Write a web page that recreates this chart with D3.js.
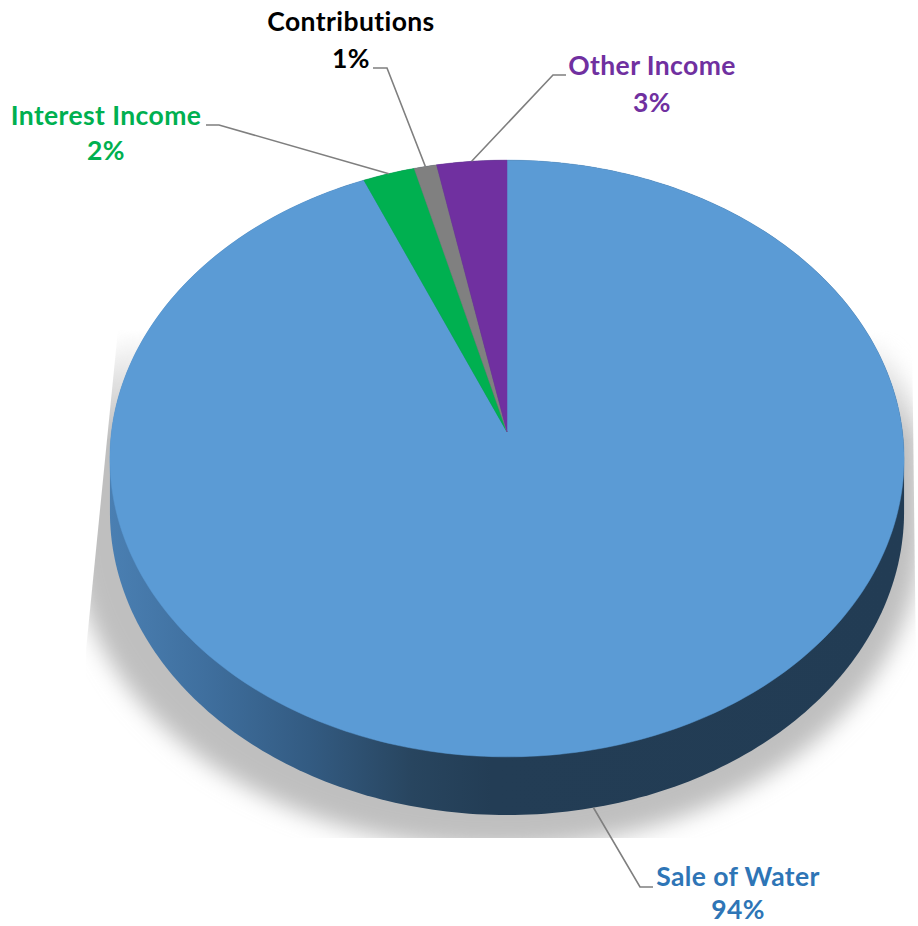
<!DOCTYPE html>
<html>
<head>
<meta charset="utf-8">
<script src="https://cdn.jsdelivr.net/npm/d3@7"></script>
<style>
  html, body { margin: 0; padding: 0; background: #fff; }
  svg { display: block; }
  text { font-family: Lato, "Open Sans", sans-serif; font-weight: 700; }
</style>
</head>
<body>
<svg id="chart" width="918" height="926"></svg>
<script>
// Revenue sources (percent of total), drawn clockwise from 12 o'clock
const categories = ["Sale of Water", "Interest Income", "Contributions", "Other Income"];
const values = [93.6, 2.3, 1.0, 3.1];
const sliceColors = ["#5b9bd5", "#00b050", "#808080", "#7030a0"];
const labelColors = ["#2e75b6", "#00b050", "#000000", "#7030a0"];

// Label placement: name center / baselines, and the horizontal stub of each leader line
const labelLayout = [
  { x: 738, y: 886, py: 919, elbowX: 640, lineY: 887, attachX: 653 },
  { x: 106, y: 125, py: 160, elbowX: 219, lineY: 125, attachX: 206 },
  { x: 351, y: 31,  py: 68,  elbowX: 387, lineY: 68,  attachX: 373 },
  { x: 652, y: 75,  py: 112, elbowX: 553, lineY: 75,  attachX: 566 }
];

const svg = d3.select("#chart");

// Perspective disk geometry
const cx = 507, cy = 432;     // apex of the slices on the top face
const R = 395.5, B = 296;     // radial extents (horizontal / depth)
const k = 0.0888;             // perspective strength
const T = 53;                 // disk thickness

// project polar point (angle from 12 o'clock clockwise, radius fraction, drop)
function proj(theta, r = 1, z = 0) {
  const u = r * Math.sin(theta);
  const d = -r * Math.cos(theta);
  const s = 1 / (1 - k * d);
  return [cx + R * u * s, cy + B * d * s + z * s];
}

const total = d3.sum(values);
const pie = d3.pie().sort(null).value(d => d)(values);
const pct = d3.format(".0%");

const defs = svg.append("defs");

// side wall gradient (lit from the left)
const sideGrad = defs.append("linearGradient")
  .attr("id", "sideGrad").attr("gradientUnits", "userSpaceOnUse")
  .attr("x1", 110).attr("x2", 905).attr("y1", 0).attr("y2", 0);
[[0, "#4a7fb2"], [0.12, "#3f6f9e"], [0.25, "#335b82"], [0.38, "#28455f"], [0.48, "#233d55"], [1, "#223c54"]]
  .forEach(([o, c]) => sideGrad.append("stop").attr("offset", o).attr("stop-color", c));

const blur = defs.append("filter").attr("id", "shadowBlur")
  .attr("x", -0.2).attr("y", -0.2).attr("width", 1.4).attr("height", 1.4);
blur.append("feGaussianBlur").attr("stdDeviation", 11);

defs.append("clipPath").attr("id", "shadowClip")
  .append("polygon")
  .attr("points", [[118, 330], [912, 330], [918, 838], [86, 838], [86, 650]].map(p => p.join(",")).join(" "));

// shadow fades in from the top
const fade = defs.append("linearGradient")
  .attr("id", "shadowFade").attr("gradientUnits", "userSpaceOnUse")
  .attr("x1", 0).attr("x2", 0).attr("y1", 330).attr("y2", 440);
fade.append("stop").attr("offset", 0).attr("stop-color", "#000");
fade.append("stop").attr("offset", 1).attr("stop-color", "#fff");
defs.append("mask").attr("id", "shadowMask")
  .attr("maskUnits", "userSpaceOnUse").attr("x", 0).attr("y", 0).attr("width", 918).attr("height", 926)
  .append("rect").attr("width", 918).attr("height", 926).attr("fill", "url(#shadowFade)");

// outline of the whole solid (top rim + bottom rim)
const N = 360;
const rimPts = [];
for (let i = 0; i < N; i++) {
  const t = (i / N) * 2 * Math.PI;
  rimPts.push(proj(t, 1, 0));
  rimPts.push(proj(t, 1, T));
}
const hull = d3.polygonHull(rimPts);
const line = d3.line().curve(d3.curveLinearClosed);

// soft cast shadow
const shadowPts = hull.map(([x, y]) => [cx + (x - cx) * 1.07 - 10, cy + (y - cy) * 1.05 + 14]);
svg.append("g").attr("clip-path", "url(#shadowClip)")
  .append("g").attr("mask", "url(#shadowMask)")
  .append("path")
  .attr("d", line(shadowPts))
  .attr("fill", "#bfbfbf")
  .attr("filter", "url(#shadowBlur)");

// side wall
svg.append("path").attr("d", line(hull)).attr("fill", "url(#sideGrad)");

// top face slices
function slicePath(a0, a1) {
  const pts = [[cx, cy]];
  const steps = Math.max(2, Math.ceil((a1 - a0) / (Math.PI / 180)));
  for (let i = 0; i <= steps; i++) pts.push(proj(a0 + (a1 - a0) * i / steps));
  return line(pts);
}
svg.append("g").selectAll("path").data(pie).join("path")
  .attr("d", d => slicePath(d.startAngle, d.endAngle))
  .attr("fill", (d, i) => sliceColors[i])
  .attr("stroke", (d, i) => sliceColors[i]).attr("stroke-width", 0.5);

// leader lines
const leaders = svg.append("g").attr("fill", "none").attr("stroke", "#7f7f7f").attr("stroke-width", 1.6);
pie.forEach((d, i) => {
  const mid = (d.startAngle + d.endAngle) / 2;
  const front = Math.cos(mid) < 0;              // slices facing the viewer attach at the wall bottom
  const end = proj(mid, 1, front ? T : 0);
  const L = labelLayout[i];
  leaders.append("polyline")
    .attr("points", [[L.attachX, L.lineY], [L.elbowX, L.lineY], end].map(p => p.join(",")).join(" "));
});

// data labels
const labels = svg.append("g").attr("text-anchor", "middle")
  .attr("font-size", 26.5).attr("letter-spacing", 0.4);
pie.forEach((d, i) => {
  const L = labelLayout[i];
  labels.append("text").attr("x", L.x).attr("y", L.y).attr("fill", labelColors[i]).text(categories[i]);
  labels.append("text").attr("x", L.x).attr("y", L.py).attr("fill", labelColors[i]).text(pct(d.value / total));
});
</script>
</body>
</html>
